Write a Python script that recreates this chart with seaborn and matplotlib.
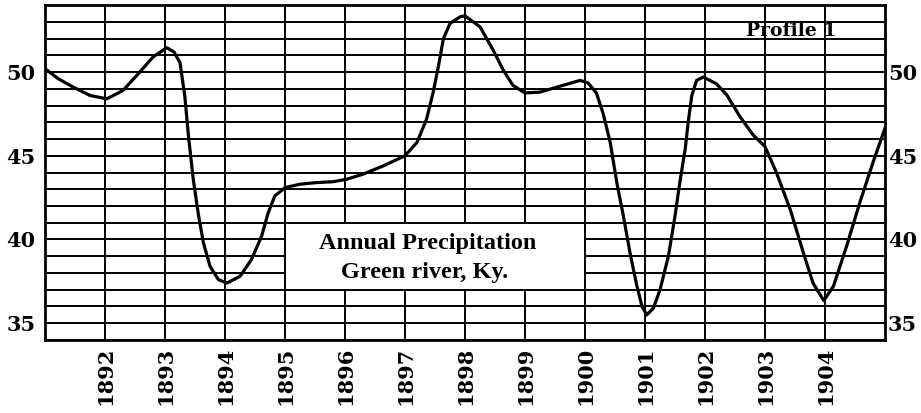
"""Annual precipitation profile, Green river, Ky. (scanned-chart recreation)."""

import matplotlib

matplotlib.use("Agg")

import matplotlib.pyplot as plt
import seaborn as sns
from matplotlib.patches import Rectangle

# Curve: fractional year position -> precipitation (inches)
YEAR_POS = [
    1891.00, 1891.22, 1891.47, 1891.75, 1892.03, 1892.30, 1892.58, 1892.80,
    1893.03, 1893.15, 1893.25, 1893.33, 1893.39, 1893.47, 1893.56, 1893.64,
    1893.75, 1893.89, 1894.03, 1894.25, 1894.44, 1894.61, 1894.72, 1894.83,
    1895.00, 1895.25, 1895.53, 1895.80, 1896.03, 1896.30, 1896.64, 1897.00,
    1897.20, 1897.36, 1897.47, 1897.56, 1897.64, 1897.75, 1897.92, 1898.00,
    1898.25, 1898.47, 1898.64, 1898.80, 1899.00, 1899.25, 1899.58, 1899.92,
    1900.05, 1900.19, 1900.30, 1900.42, 1900.53, 1900.64, 1900.75, 1900.86,
    1900.95, 1901.03, 1901.14, 1901.25, 1901.39, 1901.50, 1901.58, 1901.67,
    1901.72, 1901.78, 1901.86, 1901.97, 1902.19, 1902.36, 1902.58, 1902.80,
    1903.00, 1903.19, 1903.42, 1903.64, 1903.80, 1903.98, 1904.14, 1904.36,
    1904.58, 1904.80, 1905.00,
]
PRECIP = [
    50.2, 49.6, 49.1, 48.6, 48.4, 48.9, 50.0, 50.9,
    51.45, 51.2, 50.55, 48.55, 46.2, 43.6, 41.4, 39.8,
    38.4, 37.6, 37.4, 37.8, 38.8, 40.2, 41.6, 42.6,
    43.1, 43.3, 43.4, 43.45, 43.6, 43.9, 44.4, 45.0,
    45.8, 47.2, 48.8, 50.4, 52.0, 52.9, 53.3, 53.35,
    52.7, 51.3, 50.1, 49.2, 48.75, 48.8, 49.15, 49.5,
    49.35, 48.75, 47.55, 45.8, 43.4, 41.4, 39.2, 37.3,
    36.0, 35.5, 35.9, 37.0, 39.0, 41.4, 43.4, 45.4,
    47.0, 48.6, 49.5, 49.7, 49.3, 48.65, 47.35, 46.25,
    45.55, 44.0, 41.8, 39.2, 37.4, 36.35, 37.2, 39.6,
    42.2, 44.6, 46.65,
]

YEARS = list(range(1892, 1905))
Y_LABELS = [35, 40, 45, 50]
Y_GRID = list(range(34, 55))

TITLE_LINES = ["Annual Precipitation", "Green river, Ky."]
PROFILE = "Profile 1"

sns.set_theme(style="white")
plt.rcParams["font.family"] = ["DejaVu Serif", "DejaVu Sans"]
plt.rcParams["text.color"] = "black"
plt.rcParams["xtick.color"] = "black"
plt.rcParams["ytick.color"] = "black"

fig = plt.figure(figsize=(9.21, 4.13), dpi=100)
ax = fig.add_axes([0.0489, 0.1768, 0.912, 0.811])

sns.lineplot(x=YEAR_POS, y=PRECIP, sort=False, estimator=None,
             color="black", linewidth=2.3, ax=ax, zorder=3)
line = ax.lines[-1]
line.set_solid_joinstyle("round")
line.set_solid_capstyle("round")

ax.set_xlim(1891, 1905)
ax.set_ylim(34, 54)
ax.set_xticks(YEARS)
ax.set_xticklabels([str(y) for y in YEARS], rotation=90,
                   fontsize=15, fontweight="bold")
ax.set_yticks(Y_LABELS)
ax.set_yticklabels([str(v) for v in Y_LABELS], fontsize=15, fontweight="bold")
ax.set_yticks(Y_GRID, minor=True)
ax.tick_params(which="both", length=0)
ax.tick_params(axis="y", pad=7)
ax.tick_params(axis="x", pad=5)
ax.set_axisbelow(True)
ax.grid(which="both", color="black", linewidth=1.4)
for spine in ax.spines.values():
    spine.set_color("black")
    spine.set_linewidth(2)

# right-hand scale
ax2 = ax.twinx()
ax2.set_ylim(34, 54)
ax2.set_yticks(Y_LABELS)
ax2.set_yticklabels([str(v) for v in Y_LABELS], fontsize=15, fontweight="bold")
ax2.tick_params(length=0, pad=2)
ax2.grid(False)
for spine in ax2.spines.values():
    spine.set_visible(False)

# caption box
ax.add_patch(Rectangle((1895, 37), 5, 4, facecolor="white", edgecolor="black",
                       linewidth=1.4, zorder=2))
ax.text(1897.38, 39.75, TITLE_LINES[0], ha="center", va="center",
        fontsize=17.5, fontweight="bold", family=["Liberation Serif"], zorder=4)
ax.text(1897.33, 38.05, TITLE_LINES[1], ha="center", va="center",
        fontsize=17.5, fontweight="bold", family=["Liberation Serif"], zorder=4)

ax.text(1903.44, 52.45, PROFILE, ha="center", va="center",
        fontsize=13.5, fontweight="bold", zorder=4)

fig.savefig("out.png", dpi=100)
